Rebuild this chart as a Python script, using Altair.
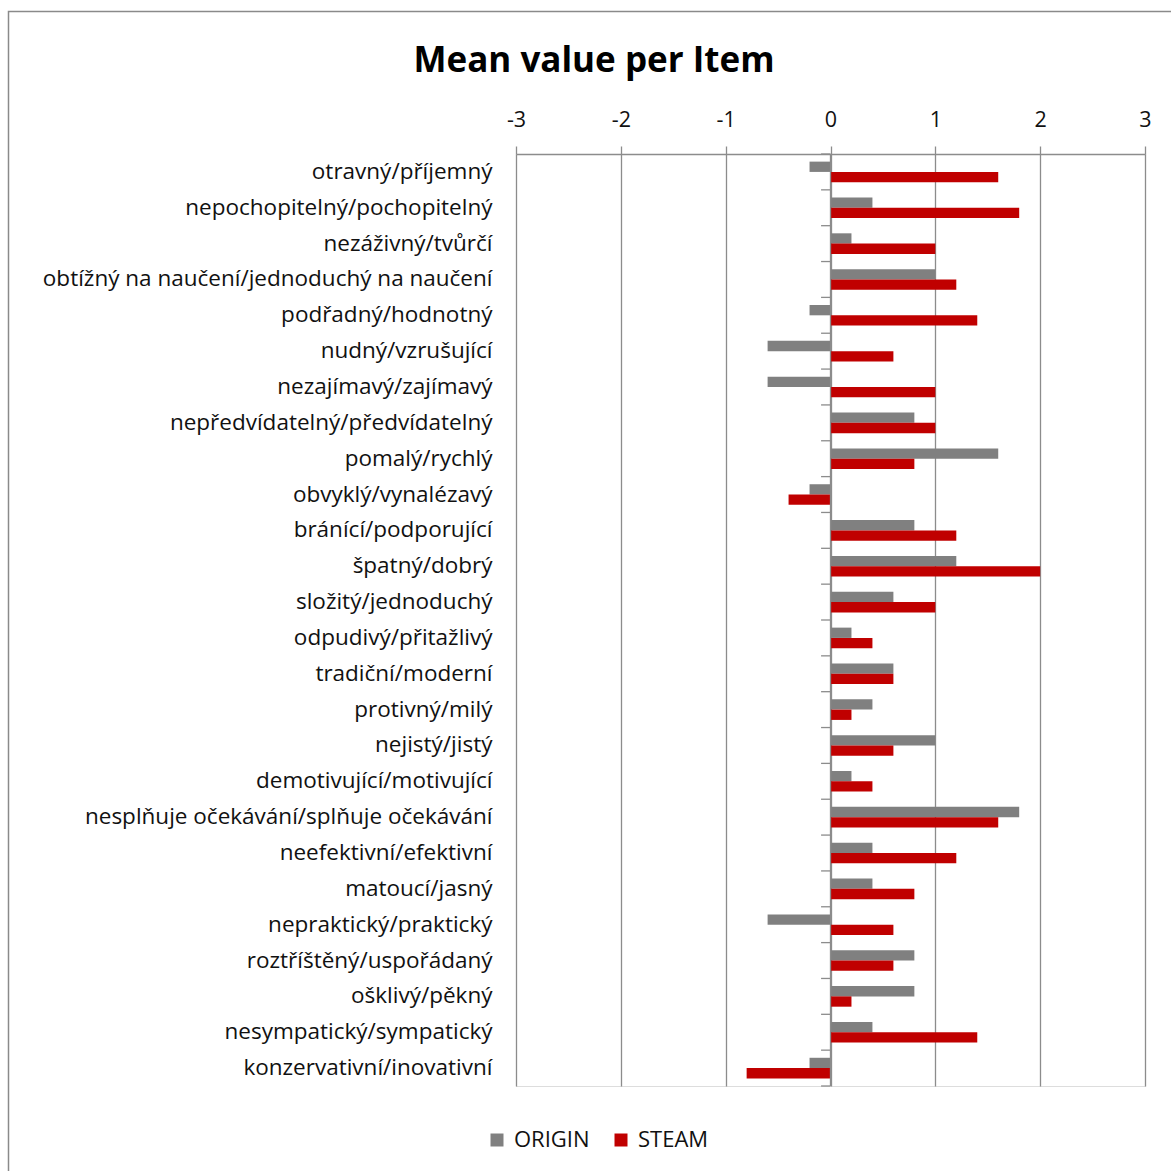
import altair as alt
import pandas as pd

# Semantic-differential items (negative pole / positive pole)
items = [
    "otravný/příjemný",
    "nepochopitelný/pochopitelný",
    "nezáživný/tvůrčí",
    "obtížný na naučení/jednoduchý na naučení",
    "podřadný/hodnotný",
    "nudný/vzrušující",
    "nezajímavý/zajímavý",
    "nepředvídatelný/předvídatelný",
    "pomalý/rychlý",
    "obvyklý/vynalézavý",
    "bránící/podporující",
    "špatný/dobrý",
    "složitý/jednoduchý",
    "odpudivý/přitažlivý",
    "tradiční/moderní",
    "protivný/milý",
    "nejistý/jistý",
    "demotivující/motivující",
    "nesplňuje očekávání/splňuje očekávání",
    "neefektivní/efektivní",
    "matoucí/jasný",
    "nepraktický/praktický",
    "roztříštěný/uspořádaný",
    "ošklivý/pěkný",
    "nesympatický/sympatický",
    "konzervativní/inovativní",
]

origin = [-0.2, 0.4, 0.2, 1.0, -0.2, -0.6, -0.6, 0.8, 1.6, -0.2, 0.8, 1.2, 0.6,
          0.2, 0.6, 0.4, 1.0, 0.2, 1.8, 0.4, 0.4, -0.6, 0.8, 0.8, 0.4, -0.2]
steam = [1.6, 1.8, 1.0, 1.2, 1.4, 0.6, 1.0, 1.0, 0.8, -0.4, 1.2, 2.0, 1.0,
         0.4, 0.6, 0.2, 0.6, 0.4, 1.6, 1.2, 0.8, 0.6, 0.6, 0.2, 1.4, -0.8]

series = ["ORIGIN", "STEAM"]
series_colors = ["#808080", "#C00000"]
x_ticks = [-3, -2, -1, 0, 1, 2, 3]
chart_title = "Mean value per Item"

df = pd.DataFrame(
    [{"item": it, "series": "ORIGIN", "value": v} for it, v in zip(items, origin)]
    + [{"item": it, "series": "STEAM", "value": v} for it, v in zip(items, steam)]
)
items_df = pd.DataFrame({"item": items})

FONT = "Open Sans"
GRID = "#8c8c8c"
TEXT = "#111111"
W, H = 629, 932
LEFT, TOP = 516, 154

y_scale = alt.Scale(domain=items, paddingInner=0, paddingOuter=0)
x_scale = alt.Scale(domain=[-3, 3], nice=False, zero=False)

y_axis = alt.Axis(
    orient="left", domain=False, ticks=False, grid=False,
    labelFont=FONT, labelFontSize=22.5, labelColor=TEXT,
    labelPadding=24, labelLimit=700, title=None,
)

bars = alt.Chart(df).mark_bar(stroke=None).encode(
    x=alt.X(
        "value:Q",
        scale=x_scale,
        axis=alt.Axis(
            orient="top", values=x_ticks, grid=True, gridColor=GRID, gridWidth=1.3,
            domain=True, domainColor=GRID, domainWidth=1.3,
            ticks=True, tickColor=GRID, tickSize=8, tickWidth=1.3,
            labelExpr="'' + datum.value", labelFont=FONT, labelFontSize=21.5,
            labelColor=TEXT, labelPadding=15, labelFlush=False, title=None,
        ),
    ),
    y=alt.Y("item:N", scale=y_scale, sort=items, axis=y_axis),
    yOffset=alt.YOffset(
        "series:N", sort=series,
        scale=alt.Scale(domain=series, paddingInner=0, paddingOuter=0.74),
    ),
    color=alt.Color(
        "series:N",
        scale=alt.Scale(domain=series, range=series_colors),
        legend=alt.Legend(
            orient="none", legendX=-30, legendY=975, direction="horizontal",
            title=None, symbolType="square", symbolSize=169, symbolStrokeWidth=0,
            labelFont=FONT, labelFontSize=22, labelColor=TEXT,
            columnPadding=20, labelOffset=6,
        ),
    ),
)

# Category axis drawn at x = 0 with ticks on each category boundary
zero_line = alt.Chart(items_df.head(1)).mark_rule(color=GRID, strokeWidth=1.3).encode(
    x=alt.datum(0, scale=x_scale), y=alt.value(0), y2=alt.value(H)
)
cat_ticks = alt.Chart(items_df).mark_rule(color=GRID, strokeWidth=1.3).encode(
    x=alt.datum(-0.09, scale=x_scale),
    x2=alt.datum(0),
    y=alt.Y("item:N", scale=y_scale, sort=items, bandPosition=0, axis=y_axis),
)
end_tick = alt.Chart(items_df.tail(1)).mark_rule(color=GRID, strokeWidth=1.3).encode(
    x=alt.datum(-0.09, scale=x_scale),
    x2=alt.datum(0),
    y=alt.Y("item:N", scale=y_scale, sort=items, bandPosition=1, axis=y_axis),
)

# Chart-area frame
frame = alt.Chart(items_df.head(1)).mark_rect(
    fill=None, stroke="#8a8a8a", strokeWidth=1.5
).encode(
    x=alt.value(8.5 - LEFT), x2=alt.value(1400),
    y=alt.value(11.5 - TOP), y2=alt.value(1400),
)

# Chart title
title = alt.Chart(pd.DataFrame({"t": [chart_title]})).mark_text(
    font=FONT, fontSize=35, fontWeight="bold", color="#000000",
    align="center", baseline="alphabetic",
).encode(
    text="t:N", x=alt.value(594 - LEFT), y=alt.value(72 - TOP),
)

chart = alt.layer(frame, bars, zero_line, cat_ticks, end_tick, title).properties(
    width=W,
    height=H,
    autosize=alt.AutoSizeParams(type="none"),
    padding={"left": LEFT, "top": TOP, "right": 1171 - LEFT - W, "bottom": 1171 - TOP - H},
).configure_view(stroke=None).configure(background="white")

chart.save("out.html", embed_options={"renderer": "svg", "actions": False})
